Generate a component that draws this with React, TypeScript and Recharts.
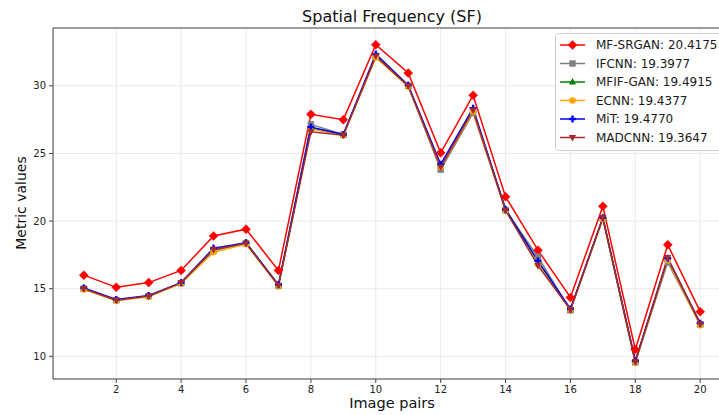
import React from 'react';
import { LineChart, Line, XAxis, YAxis, CartesianGrid, ReferenceLine } from 'recharts';

// Image pair index (x axis)
const pairs = [1, 2, 3, 4, 5, 6, 7, 8, 9, 10, 11, 12, 13, 14, 15, 16, 17, 18, 19, 20];

// Spatial frequency per image pair for each fusion method
const mfSrgan = [16.0, 15.1, 15.45, 16.35, 18.9, 19.4, 16.35, 27.9, 27.5, 33.05, 30.95, 25.05, 29.3, 21.8, 17.85, 14.35, 21.1, 10.5, 18.25, 13.3];
const ifcnn = [15.0, 14.15, 14.45, 15.4, 17.8, 18.35, 15.2, 27.15, 26.4, 32.15, 30.0, 23.8, 28.0, 20.8, 17.35, 13.4, 20.2, 9.55, 16.95, 12.35];
const mfifGan = [15.0, 14.15, 14.45, 15.45, 17.9, 18.4, 15.25, 26.9, 26.4, 32.2, 30.0, 24.1, 28.2, 20.9, 17.0, 13.45, 20.2, 9.6, 17.2, 12.4];
const ecnn = [14.95, 14.1, 14.4, 15.4, 17.7, 18.3, 15.2, 26.8, 26.35, 32.1, 29.95, 24.0, 28.1, 20.8, 16.8, 13.45, 20.15, 9.55, 17.1, 12.3];
const mit = [15.05, 14.2, 14.5, 15.45, 18.0, 18.4, 15.3, 26.95, 26.4, 32.35, 30.05, 24.2, 28.35, 20.85, 17.05, 13.5, 20.25, 9.65, 17.25, 12.45];
const madcnn = [15.0, 14.15, 14.45, 15.45, 17.9, 18.35, 15.25, 26.6, 26.35, 32.2, 30.0, 24.0, 28.2, 20.8, 16.7, 13.45, 20.25, 9.6, 17.3, 12.4];

// Mean scores shown in the legend
const methodNames = ['MF-SRGAN', 'IFCNN', 'MFIF-GAN', 'ECNN', 'MiT', 'MADCNN'];
const meanScores = ['20.4175', '19.3977', '19.4915', '19.4377', '19.4770', '19.3647'];

const xTicks = [2, 4, 6, 8, 10, 12, 14, 16, 18, 20];
const yTicks = [10, 15, 20, 25, 30];
const xDomain: [number, number] = [0.05, 20.95];
const yDomain: [number, number] = [8.32, 34.28];

type MarkerKind = 'diamond' | 'square' | 'triangleUp' | 'circle' | 'plus' | 'triangleDown';

const series: { key: string; values: number[]; color: string; marker: MarkerKind }[] = [
  { key: 'mfsrgan', values: mfSrgan, color: '#ff0000', marker: 'diamond' },
  { key: 'ifcnn', values: ifcnn, color: '#808080', marker: 'square' },
  { key: 'mfifgan', values: mfifGan, color: '#008000', marker: 'triangleUp' },
  { key: 'ecnn', values: ecnn, color: '#ffa500', marker: 'circle' },
  { key: 'mit', values: mit, color: '#0000ff', marker: 'plus' },
  { key: 'madcnn', values: madcnn, color: '#a52a2a', marker: 'triangleDown' },
];

const rows = pairs.map((p, i) => {
  const row: Record<string, number> = { pair: p };
  series.forEach((s) => {
    row[s.key] = s.values[i];
  });
  return row;
});

const FONT = '"DejaVu Sans", Verdana, sans-serif';

function Marker({ kind, cx, cy, color }: { kind: MarkerKind; cx: number; cy: number; color: string }) {
  switch (kind) {
    case 'diamond':
      return <polygon points={`${cx},${cy - 4.5} ${cx + 4.5},${cy} ${cx},${cy + 4.5} ${cx - 4.5},${cy}`} fill={color} stroke={color} strokeWidth={0.5} />;
    case 'square':
      return <rect x={cx - 3.2} y={cy - 3.2} width={6.4} height={6.4} fill={color} />;
    case 'triangleUp':
      return <polygon points={`${cx},${cy - 4} ${cx + 3.6},${cy + 2.6} ${cx - 3.6},${cy + 2.6}`} fill={color} />;
    case 'circle':
      return <circle cx={cx} cy={cy} r={3.3} fill={color} />;
    case 'plus':
      return (
        <g fill={color}>
          <rect x={cx - 3.5} y={cy - 1.2} width={7} height={2.4} />
          <rect x={cx - 1.2} y={cy - 3.5} width={2.4} height={7} />
        </g>
      );
    case 'triangleDown':
    default:
      return <polygon points={`${cx},${cy + 4} ${cx + 3.6},${cy - 2.6} ${cx - 3.6},${cy - 2.6}`} fill={color} />;
  }
}

function LegendBox() {
  const rowGap = 18.5;
  return (
    <svg width={170} height={118} style={{ position: 'absolute', left: 555, top: 33 }}>
      <rect x={0.5} y={0.5} width={175} height={117} rx={3} fill="#ffffff" fillOpacity={0.85} stroke="#cccccc" />
      {series.map((s, i) => {
        const cy = 12 + i * rowGap;
        return (
          <g key={s.key}>
            <line x1={5} x2={30} y1={cy} y2={cy} stroke={s.color} strokeWidth={1.5} />
            <Marker kind={s.marker} cx={17.5} cy={cy} color={s.color} />
            <text x={41} y={cy} dominantBaseline="central" fontSize={12} fontFamily={FONT} fill="#1a1a1a">
              {`${methodNames[i]}: ${meanScores[i]}`}
            </text>
          </g>
        );
      })}
    </svg>
  );
}

export default function App() {
  return (
    <div style={{ position: 'fixed', left: 0, top: 0, width: 719, height: 415, overflow: 'hidden', background: '#fff', fontFamily: FONT }}>
      <LineChart width={760} height={415} data={rows} margin={{ top: 28, right: 29, left: 0, bottom: 0 }}>
        <CartesianGrid stroke="#e6e6e6" strokeWidth={0.8} />
        <XAxis
          dataKey="pair"
          type="number"
          domain={xDomain}
          ticks={xTicks}
          allowDataOverflow
          height={36}
          tickSize={4}
          tickMargin={3}
          stroke="#444"
          tick={{ fontSize: 10, fill: '#222', fontFamily: FONT }}
        />
        <YAxis
          type="number"
          domain={yDomain}
          ticks={yTicks}
          allowDataOverflow
          width={53}
          tickSize={4}
          tickMargin={3}
          stroke="#444"
          tick={{ fontSize: 10, fill: '#222', fontFamily: FONT }}
        />
        <ReferenceLine y={yDomain[1]} stroke="#444" strokeWidth={1} />
        {series.map((s) => (
          <Line
            key={s.key}
            dataKey={s.key}
            type="linear"
            stroke={s.color}
            strokeWidth={1.5}
            isAnimationActive={false}
            dot={(props: any) => (
              <Marker key={`${s.key}-${props.index}`} kind={s.marker} cx={props.cx} cy={props.cy} color={s.color} />
            )}
            activeDot={false}
          />
        ))}
      </LineChart>
      <div style={{ position: 'absolute', left: 292, width: 200, top: 7, textAlign: 'center', fontSize: 16, color: '#111', whiteSpace: 'nowrap' }}>
        Spatial Frequency (SF)
      </div>
      <div style={{ position: 'absolute', left: 292, width: 200, top: 395, textAlign: 'center', fontSize: 14.5, color: '#111', whiteSpace: 'nowrap' }}>
        Image pairs
      </div>
      <div
        style={{
          position: 'absolute',
          left: 21,
          top: 203,
          transform: 'translate(-50%, -50%) rotate(-90deg)',
          fontSize: 14,
          color: '#111',
          whiteSpace: 'nowrap',
        }}
      >
        Metric values
      </div>
      <LegendBox />
    </div>
  );
}
